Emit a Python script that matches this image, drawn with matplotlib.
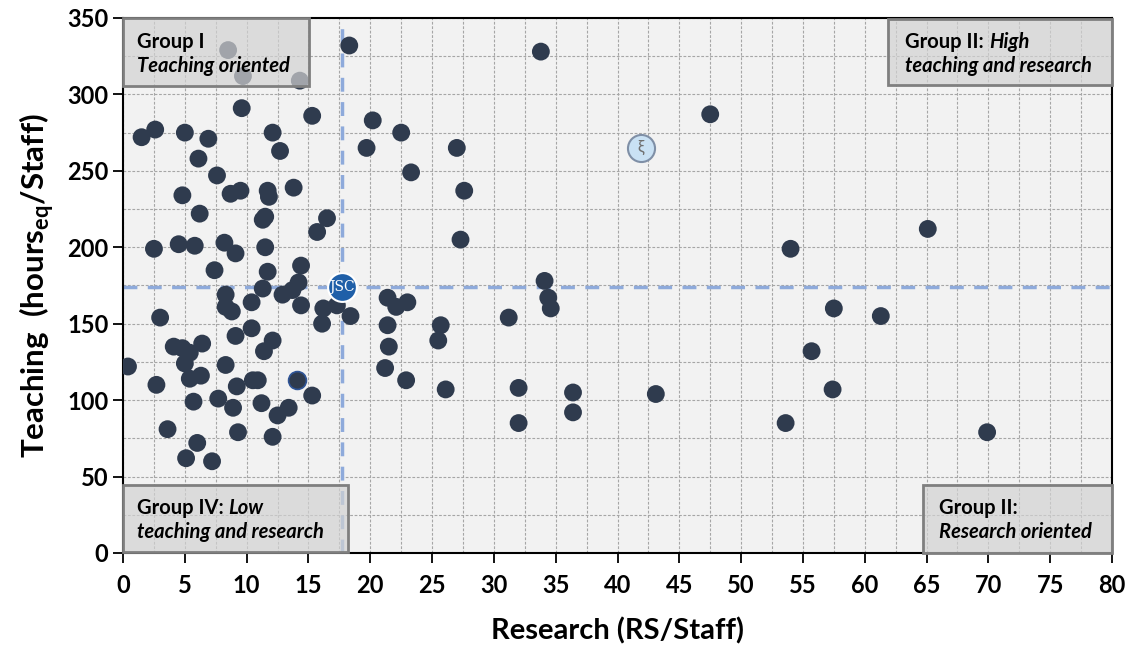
import matplotlib
matplotlib.use("Agg")
import matplotlib.pyplot as plt
import matplotlib.ticker as mticker
from matplotlib.patches import Rectangle

plt.rcParams["font.family"] = ["Lato", "DejaVu Sans"]

# Datos (Research RS/Staff, Teaching hours_eq/Staff)
research = [
    18.3, 33.8, 8.5, 9.7, 14.3, 47.5, 1.5, 2.6, 5.0, 6.9,
    9.6, 6.1, 12.1, 12.7, 15.3, 20.2, 22.5, 19.7, 27.0, 23.3,
    27.6, 13.8, 7.6, 4.8, 8.7, 9.5, 11.7, 11.8, 6.2, 16.5,
    11.3, 11.5, 15.7, 27.3, 2.5, 4.5, 5.8, 8.2, 9.1, 11.5,
    14.4, 7.4, 11.7, 14.2, 11.3, 8.3, 8.3, 8.8, 10.4, 12.9,
    13.7, 14.4, 16.2, 17.3, 18.4, 16.1, 34.1, 34.4, 34.6, 54.0,
    65.1, 57.5, 61.3, 55.7, 57.4, 53.6, 69.9, 43.1, 36.4, 36.4,
    32.0, 32.0, 31.2, 21.4, 22.1, 23.0, 21.4, 21.5, 21.2, 22.9,
    25.7, 25.5, 26.1, 3.0, 15.3, 11.4, 12.1, 10.4, 9.1, 6.4,
    4.1, 4.8, 5.4, 5.0, 8.3, 0.4, 5.4, 6.3, 2.7, 10.5,
    10.9, 9.2, 7.7, 5.7, 11.2, 8.9, 13.4, 12.5, 3.6, 6.0,
    9.3, 12.1, 5.1, 7.2,
]
teaching = [
    332, 328, 329, 312, 309, 287, 272, 277, 275, 271,
    291, 258, 275, 263, 286, 283, 275, 265, 265, 249,
    237, 239, 247, 234, 235, 237, 237, 233, 222, 219,
    218, 220, 210, 205, 199, 202, 201, 203, 196, 200,
    188, 185, 184, 177, 173, 169, 161, 158, 164, 169,
    172, 162, 160, 162, 155, 150, 178, 167, 160, 199,
    212, 160, 155, 132, 107, 85, 79, 104, 105, 92,
    108, 85, 154, 167, 161, 164, 149, 135, 121, 113,
    149, 139, 107, 154, 103, 132, 139, 147, 142, 137,
    135, 134, 131, 124, 123, 122, 114, 116, 110, 113,
    113, 109, 101, 99, 98, 95, 95, 90, 81, 72,
    79, 76, 62, 60,
]

# Punto con borde azul
research_marcado = [14.1]
teaching_marcado = [113]

# Referencias: JSC y la media (xi)
jsc_research, jsc_teaching = 17.7, 174
xi_research, xi_teaching = 41.9, 265

media_research = 17.7
media_teaching = 174

COLOR_PUNTO = "#2F3B4E"
COLOR_MEDIA = "#8EAADB"
COLOR_CAJA = "#D2D2D2"
TAM_CAJA = 14.5

fig, ax = plt.subplots(figsize=(11.32, 6.47), dpi=100)
fig.subplots_adjust(left=0.1087, right=0.9823, bottom=0.1453, top=0.9722)
ax.set_facecolor("#F2F2F2")

ax.set_xlim(0, 80)
ax.set_ylim(0, 350)

ax.xaxis.set_major_locator(mticker.MultipleLocator(5))
ax.xaxis.set_minor_locator(mticker.MultipleLocator(2.5))
ax.yaxis.set_major_locator(mticker.MultipleLocator(50))
ax.yaxis.set_minor_locator(mticker.MultipleLocator(25))

ax.grid(which="both", color="#A6A6A6", linestyle=(0, (2.5, 1.5)), linewidth=0.8)
ax.set_axisbelow(True)

ax.tick_params(which="major", direction="out", length=7, width=1.3,
               labelsize=17, color="black")
ax.tick_params(axis="x", pad=8)
ax.tick_params(which="minor", length=0)
for lab in ax.get_xticklabels() + ax.get_yticklabels():
    lab.set_fontweight("bold")

for spine in ax.spines.values():
    spine.set_color("black")
    spine.set_linewidth(1.5)

# Lineas de las medias
ax.axvline(media_research, color=COLOR_MEDIA, linestyle=(0, (4, 3)), linewidth=2.5, zorder=2)
ax.axhline(media_teaching, color=COLOR_MEDIA, linestyle=(0, (4, 3)), linewidth=2.5, zorder=2)

ax.scatter(research, teaching, s=165, color=COLOR_PUNTO, edgecolors="none", zorder=3)
ax.scatter(research_marcado, teaching_marcado, s=165, color=COLOR_PUNTO,
           edgecolors="#2F5597", linewidths=1.2, zorder=3)

# Marcador JSC
ax.scatter([jsc_research], [jsc_teaching], s=430, color="#1F5FA8",
           edgecolors="white", linewidths=1.5, zorder=4)
ax.text(jsc_research, jsc_teaching, "JSC", color="white", fontsize=10,
        ha="center", va="center", zorder=5, family="DejaVu Serif")

# Marcador xi
ax.scatter([xi_research], [xi_teaching], s=380, color="#C9E1F4",
           edgecolors="#7F8FA6", linewidths=1.5, zorder=4)
ax.text(xi_research, xi_teaching, "ξ", color="#6F6F6F", fontsize=12,
        ha="center", va="center", zorder=5)

# Cajas de los cuadrantes
cajas = [
    (0.0, 305.4, 15.05, 44.6),
    (61.9, 306.0, 18.1, 43.2),
    (0.0, 0.7, 18.2, 43.8),
    (64.7, 0.0, 15.3, 44.5),
]
for x0, y0, w, h in cajas:
    ax.add_patch(Rectangle((x0, y0), w, h, facecolor=COLOR_CAJA, alpha=0.7,
                           edgecolor="none", zorder=6, clip_on=False))
    ax.add_patch(Rectangle((x0, y0), w, h, facecolor="none",
                           edgecolor="#7F7F7F", linewidth=2, zorder=7, clip_on=False))


def px_a_datos(px, py):
    return (px - 123) / 12.36, (553 - py) / 1.529


def texto_mixto(px, py, normal, cursiva):
    x, y = px_a_datos(px, py)
    if normal:
        t1 = ax.text(x, y, normal, fontsize=TAM_CAJA, fontweight="bold",
                     ha="left", va="baseline", zorder=8)
        if cursiva:
            ax.annotate(cursiva, xy=(1, 0), xycoords=t1, fontsize=TAM_CAJA,
                        fontweight="bold", style="italic", ha="left",
                        va="bottom", zorder=8)
    else:
        ax.text(x, y, cursiva, fontsize=TAM_CAJA, fontweight="bold", style="italic",
                ha="left", va="baseline", zorder=8)


etiquetas = [
    (137, 48, "Group I", ""),
    (137, 72, "", "Teaching oriented"),
    (905, 48, "Group II: ", "High"),
    (905, 72, "", "teaching and research"),
    (137, 514, "Group IV: ", "Low"),
    (137, 538, "", "teaching and research"),
    (939, 514, "Group II:", ""),
    (939, 538, "", "Research oriented"),
]
for px, py, normal, cursiva in etiquetas:
    texto_mixto(px, py, normal, cursiva)

ax.set_xlabel("Research (RS/Staff)", fontsize=21, fontweight="bold", labelpad=15)
ax.set_ylabel(r"Teaching  (hours$_\mathregular{eq}$/Staff)", fontsize=22.5,
              fontweight="bold", labelpad=8)

fig.savefig("out.png", dpi=100)
